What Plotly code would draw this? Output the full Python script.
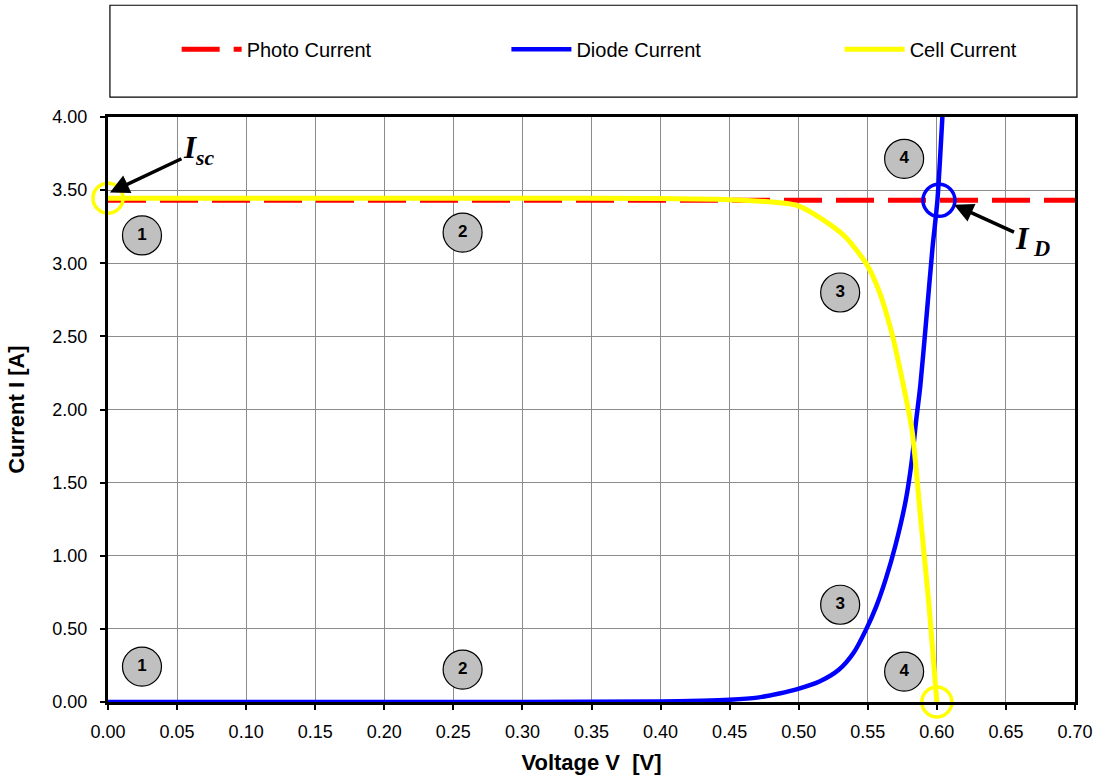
import plotly.graph_objects as go

# ---- data ----
photo_v = [0.0, 0.70]
photo_i = [3.43, 3.43]

diode_v = [0.0, 0.10, 0.20, 0.30, 0.40, 0.43, 0.45, 0.47, 0.486, 0.499, 0.515, 0.529,
           0.540, 0.549, 0.556, 0.563, 0.570, 0.5775, 0.582, 0.5847, 0.588, 0.592,
           0.5968, 0.6004, 0.604]
diode_i = [0.0, 0.0, 0.0, 0.0, 0.003, 0.008, 0.015, 0.03, 0.058, 0.088, 0.14, 0.22,
           0.34, 0.50, 0.65, 0.84, 1.07, 1.38, 1.66, 1.90, 2.16, 2.58,
           3.10, 3.43, 4.0]

cell_v = [0.0, 0.10, 0.20, 0.30, 0.40, 0.45, 0.499, 0.522, 0.534, 0.549, 0.558,
          0.568, 0.575, 0.582, 0.5886, 0.5944, 0.600]
cell_i = [3.445, 3.445, 3.445, 3.445, 3.442, 3.435, 3.394, 3.269, 3.177, 2.996, 2.814,
          2.50, 2.20, 1.859, 1.222, 0.653, 0.0]

region_labels = ["1", "1", "2", "2", "3", "3", "4", "4"]
region_v = [0.0246, 0.0246, 0.2567, 0.2567, 0.530, 0.530, 0.5763, 0.5763]
region_i = [3.19, 0.242, 3.21, 0.222, 2.80, 0.665, 3.714, 0.208]

x_ticks = [round(0.05 * k, 2) for k in range(15)]
y_ticks = [round(0.5 * k, 2) for k in range(9)]

FONT = "Liberation Sans, Arial, sans-serif"
SERIF = "Liberation Serif, Times New Roman, serif"

fig = go.Figure()

fig.add_trace(go.Scatter(x=photo_v, y=photo_i, mode="lines", name="Photo Current",
                         legend="legend",
                         line=dict(color="#ff0000", width=5, dash="38px,14px")))
fig.add_trace(go.Scatter(x=diode_v, y=diode_i, mode="lines", name="Diode Current",
                         legend="legend2",
                         line=dict(color="#0000ff", width=4.5, shape="spline", smoothing=0.7)))
fig.add_trace(go.Scatter(x=cell_v, y=cell_i, mode="lines", name="Cell Current",
                         legend="legend3",
                         line=dict(color="#ffff00", width=5, shape="spline", smoothing=0.7)))

# region number bubbles
fig.add_trace(go.Scatter(x=region_v, y=region_i, mode="markers+text", text=region_labels,
                         textposition="middle center",
                         textfont=dict(family=FONT, size=17, color="black", weight="bold"),
                         marker=dict(size=39, color="#c0c0c0", line=dict(color="black", width=1.2)),
                         showlegend=False, hoverinfo="skip"))

# highlight circles: Isc, Voc, ID
fig.add_trace(go.Scatter(x=[0.0, 0.600], y=[3.445, 0.0], mode="markers",
                         marker=dict(symbol="circle-open", size=30, color="#ffff00",
                                     line=dict(width=3.5)),
                         cliponaxis=False, showlegend=False, hoverinfo="skip"))
fig.add_trace(go.Scatter(x=[0.6015], y=[3.43], mode="markers",
                         marker=dict(symbol="circle-open", size=32, color="#0000ff",
                                     line=dict(width=3.5)),
                         cliponaxis=False, showlegend=False, hoverinfo="skip"))

# labels with arrows (arrow tip at x,y; text centred at offset ax,ay)
labels = [
    dict(x=0.0014, y=3.484, ax=89, ay=-42, text="<b><i>I<sub>sc</sub></i></b>", size=31),
    dict(x=0.6124, y=3.40, ax=79, ay=36, text="<b><i>I<sub> D</sub></i></b>", size=32),
    dict(x=0.6028, y=-0.024, ax=85, ay=-54, text="<b><i>V<sub> oc</sub></i></b>", size=32),
]
for l in labels:
    fig.add_annotation(x=l["x"], y=l["y"], ax=l["ax"], ay=l["ay"], xref="x", yref="y",
                       text=l["text"], showarrow=True, arrowhead=2, arrowsize=1.1,
                       arrowwidth=3.5, arrowcolor="black",
                       font=dict(family=SERIF, size=l["size"], color="black"))

# legend box
fig.add_shape(type="rect", xref="paper", yref="paper",
              x0=0.002, x1=1.002, y0=1.034, y1=1.191,
              line=dict(color="black", width=1.2), fillcolor="rgba(0,0,0,0)")

axis_common = dict(showline=True, linecolor="black", linewidth=3, mirror=True,
                   showgrid=True, gridcolor="#8c8c8c", gridwidth=1,
                   ticks="outside", ticklen=5, tickwidth=2, tickcolor="black",
                   tickfont=dict(family=FONT, size=18, color="black"),
                   zeroline=False, automargin=False, ticklabeloverflow="allow")

fig.update_xaxes(range=[0, 0.70], tickvals=x_ticks, tickformat=".2f",
                 ticklabelstandoff=6,
                 title=dict(text="<b>Voltage V  [V]</b>", font=dict(family=FONT, size=22, color="black"),
                            standoff=15),
                 **axis_common)
fig.update_yaxes(range=[0, 4.0], tickvals=y_ticks, tickformat=".2f",
                 ticklabelstandoff=9,
                 title=dict(text="<b>Current I [A]</b>", font=dict(family=FONT, size=22, color="black"),
                            standoff=22),
                 **axis_common)

leg_common = dict(orientation="h", xanchor="left", y=1.116, yanchor="middle",
                  itemwidth=60, font=dict(family=FONT, size=20, color="black"),
                  bgcolor="rgba(0,0,0,0)", borderwidth=0)

fig.update_layout(
    width=1097, height=780,
    margin=dict(l=108, r=22, t=117, b=78, autoexpand=False),
    paper_bgcolor="white", plot_bgcolor="white",
    font=dict(family=FONT, color="black"),
    legend=dict(x=0.071, **leg_common),
    legend2=dict(x=0.412, **leg_common),
    legend3=dict(x=0.7566, **leg_common),
    showlegend=True,
)

# remove the page's default body margin so the figure fills the window exactly
fig.write_html("out.html", default_width="1097px", default_height="780px",
               config={"displayModeBar": False},
               post_script="document.body.style.margin='0';document.body.style.overflow='hidden';")
